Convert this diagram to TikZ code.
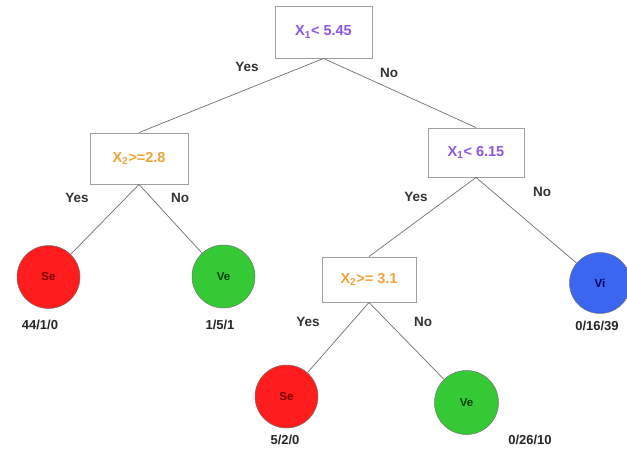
\documentclass[tikz,border=0pt]{standalone}
\usepackage{fontspec}
\setmainfont{Liberation Sans}
\definecolor{tpurple}{HTML}{8E55E6}
\definecolor{torange}{HTML}{F2A33A}
\definecolor{cred}{HTML}{FF1C1C}
\definecolor{cgreen}{HTML}{35C935}
\definecolor{cblue}{HTML}{3B66F0}
\definecolor{edgegray}{HTML}{707070}
\begin{document}
\begin{tikzpicture}[x=1pt,y=-1pt,
  testbox/.style={draw=gray!75, line width=0.9pt, fill=white, inner sep=0pt,
    font=\bfseries\fontsize{14.5}{16}\selectfont},
  leaf/.style={circle, draw=black!55, line width=0.5pt, inner sep=0pt,
    minimum size=63pt, font=\bfseries\fontsize{11.5}{13}\selectfont},
  count/.style={font=\bfseries\fontsize{13}{15}\selectfont, text=black!85},
  ans/.style={font=\bfseries\fontsize{13.5}{15}\selectfont, text=black!80},
  conn/.style={draw=edgegray, line width=0.7pt}
]
\useasboundingbox (0,0) rectangle (627,451);
\fill[white] (0,0) rectangle (627,451);

% test boxes
\node[testbox, minimum width=97pt, minimum height=52pt, text=tpurple] (root) at (323.5,32) {X\textsubscript{1}< 5.45};
\node[testbox, minimum width=98pt, minimum height=51pt, text=torange] (ta) at (139,158.5) {X\textsubscript{2}>=2.8};
\node[testbox, minimum width=96pt, minimum height=49pt, text=tpurple] (tb) at (476,152.5) {X\textsubscript{1}< 6.15};
\node[testbox, minimum width=94pt, minimum height=45pt, text=torange] (tc) at (369,279.5) {X\textsubscript{2}>= 3.1};

% leaves
\node[leaf, fill=cred, text=red!45!black] (se1) at (48.5,277) {Se};
\node[leaf, fill=cgreen, text=green!25!black] (ve1) at (223.5,276.5) {Ve};
\node[leaf, fill=cblue, minimum size=61pt, text=blue!35!black] (vi) at (600,283) {Vi};
\node[leaf, fill=cred, text=red!45!black] (se2) at (286.5,396.5) {Se};
\node[leaf, fill=cgreen, minimum size=64pt, text=green!25!black] (ve2) at (466.5,402.5) {Ve};

% counts
\node[count] (c1) at (40,325) {44/1/0};
\node[count] (c2) at (220,325) {1/5/1};
\node[count] (c3) at (597,326) {0/16/39};
\node[count] (c4) at (285,440) {5/2/0};
\node[count] (c5) at (530,440) {0/26/10};

% connectors
\draw[conn] (root.south) -- (ta.north);
\draw[conn] (root.south) -- (tb.north);
\draw[conn] (ta.south) -- (se1);
\draw[conn] (ta.south) -- (ve1);
\draw[conn] (tb.south) -- (tc.north);
\draw[conn] (tb.south) -- (vi);
\draw[conn] (tc.south) -- (se2);
\draw[conn] (tc.south) -- (ve2);

% branch labels
\node[ans] (y1) at (247,67) {Yes};
\node[ans] (n1) at (389,73) {No};
\node[ans] (y2) at (77,198) {Yes};
\node[ans] (n2) at (180,198) {No};
\node[ans] (y3) at (416,197) {Yes};
\node[ans] (n3) at (542,192) {No};
\node[ans] (y4) at (308,322) {Yes};
\node[ans] (n4) at (423,322) {No};
\end{tikzpicture}
\end{document}
